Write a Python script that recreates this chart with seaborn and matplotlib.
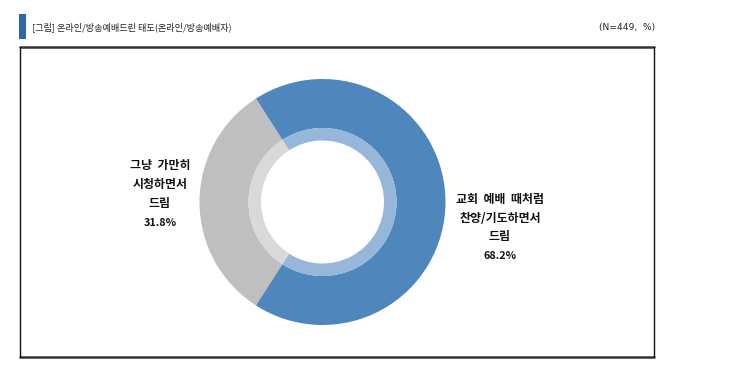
import matplotlib
matplotlib.use("Agg")
import matplotlib.pyplot as plt
from matplotlib.patches import Rectangle
from matplotlib.lines import Line2D
import seaborn as sns

sns.set_theme(style="white")
plt.rcParams['font.family'] = ['Noto Sans CJK KR', 'DejaVu Sans']

# Data
categories = ["그냥  가만히\n시청하면서\n드림", "교회  예배  때처럼\n찬양/기도하면서\n드림"]
values = [31.8, 68.2]
outer_colors = ["#bfbfbf", "#4f87bd"]
inner_colors = ["#d9d9d9", "#96b7d9"]
title = "[그림] 온라인/방송예배드린 태도(온라인/방송예배자)"
note = "(N=449,  %)"

W, H = 735, 371
fig = plt.figure(figsize=(W / 100, H / 100), dpi=100)
fig.patch.set_facecolor("white")

# Frame box and header
box = fig.add_axes([0, 0, 1, 1])
box.set_xlim(0, W)
box.set_ylim(H, 0)
box.axis("off")
box.add_patch(Rectangle((19, 14), 7.5, 25, color="#2a68a6", lw=0))
box.text(32, 27.5, title, fontsize=6.6, va="center", ha="left", color="#222222")
box.text(655, 27.5, note, fontsize=6.6, va="center", ha="right", color="#222222",
         family=['DejaVu Sans'])
box.add_line(Line2D([20, 654], [47, 47], color="#333333", lw=1.8))
box.add_line(Line2D([20, 654], [357, 357], color="#333333", lw=1.8))
box.add_line(Line2D([20, 20], [47, 357], color="#111111", lw=1.0))
box.add_line(Line2D([654, 654], [47, 357], color="#111111", lw=1.0))

# Donut
cx, cy, half = 322.5, 202, 130
ax = fig.add_axes([(cx - half) / W, (H - cy - half) / H, 2 * half / W, 2 * half / H])
R_out, R_mid, R_in = 123, 74, 61.5
gray_span = values[0] / 100 * 360
start = 180 - gray_span / 2
ax.pie(values, radius=R_out, colors=outer_colors, startangle=start, counterclock=True,
       wedgeprops=dict(width=R_out - R_mid, linewidth=0))
ax.pie(values, radius=R_mid, colors=inner_colors, startangle=start, counterclock=True,
       wedgeprops=dict(width=R_mid - R_in, linewidth=0))
ax.set_xlim(-half, half)
ax.set_ylim(-half, half)
ax.set_aspect("equal")
ax.axis("off")

# Labels
label_pos = [(160, 184.5), (500, 218)]
for cat, val, (lx, ly) in zip(categories, values, label_pos):
    box.text(lx, ly, cat, fontsize=8.6, fontweight="bold", ha="center", va="center",
             linespacing=1.55, color="#111111")
    box.text(lx, ly + 38, f"{val}%", fontsize=7.8, fontweight="bold", ha="center",
             va="center", color="#111111")

fig.savefig("out.png", dpi=100)
